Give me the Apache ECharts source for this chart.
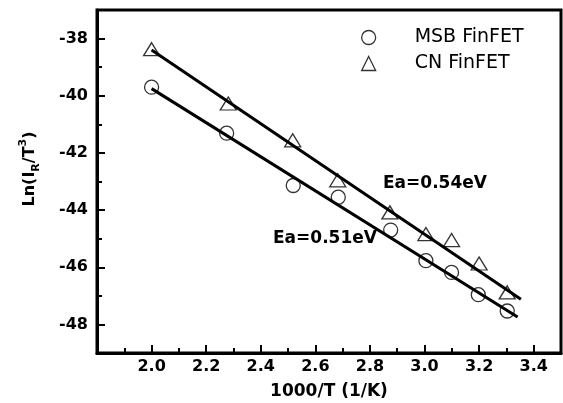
<!DOCTYPE html>
<html>
<head>
<meta charset="utf-8">
<script src="https://cdn.jsdelivr.net/npm/echarts@6/dist/echarts.min.js"></script>
<style>
html,body{margin:0;padding:0;background:#fff}
#echart{width:563px;height:403px}
</style>
</head>
<body>
<div id="echart"></div>
<script>
// measured points (1000/T, ln(IR/T^3))
var msbX = [2.0, 2.275, 2.519, 2.684, 2.876, 3.005, 3.099, 3.197, 3.303];
var msbY = [-39.70, -41.31, -43.14, -43.55, -44.70, -45.77, -46.18, -46.96, -47.53];
var cnX = [2.0, 2.281, 2.517, 2.682, 2.873, 3.005, 3.099, 3.200, 3.303];
var cnY = [-38.37, -40.27, -41.56, -42.96, -44.08, -44.84, -45.05, -45.87, -46.88];

// fitted lines, end points
var msbFitX = [2.0, 3.341];
var msbFitY = [-39.75, -47.74];
var cnFitX = [2.0, 3.353];
var cnFitY = [-38.40, -47.12];

// ticks
var xLabels = [2.0, 2.2, 2.4, 2.6, 2.8, 3.0, 3.2, 3.4];
var xMinor = [1.9, 2.1, 2.3, 2.5, 2.7, 2.9, 3.1, 3.3];
var yLabels = [-48, -46, -44, -42, -40, -38];
var yMinor = [-47, -45, -43, -41, -39];

var seriesNames = ['MSB FinFET', 'CN FinFET'];
var fitLabels = ['Ea=0.54eV', 'Ea=0.51eV'];

function pairs(xs, ys) {
	var out = [];
	for (var i = 0; i < xs.length; i++) {
		out.push([xs[i], ys[i]]);
	}
	return out;
}

var font = 'DejaVu Sans';
var markStyle = {color: 'transparent', borderColor: '#000', borderWidth: 1.3};

var myChart = echarts.init(document.getElementById('echart'));

var xBase = {type: 'value', min: 1.8, max: 3.5, position: 'bottom', splitLine: {show: false}};
var yBase = {type: 'value', min: -49, max: -37, position: 'left', splitLine: {show: false}};

var option = {
	animation: false,
	backgroundColor: '#fff',
	grid: {
		left: 97, right: 2, top: 10, bottom: 50,
		show: true, borderColor: '#000', borderWidth: 3,
		outerBoundsMode: 'none'
	},
	xAxis: [
		Object.assign({}, xBase, {
			name: '1000/T (1/K)',
			nameLocation: 'middle',
			nameGap: 30,
			nameTextStyle: {fontFamily: font, fontWeight: 'bold', fontSize: 17, color: '#000'},
			axisLine: {onZero: false, lineStyle: {color: '#000', width: 3}},
			axisTick: {inside: true, length: 8, lineStyle: {color: '#000', width: 2}, customValues: xLabels},
			axisLabel: {
				margin: 6, fontFamily: font, fontWeight: 'bold', fontSize: 16, color: '#000',
				customValues: xLabels,
				formatter: function (v) { return v.toFixed(1); }
			}
		}),
		Object.assign({}, xBase, {
			axisLine: {show: false, onZero: false},
			axisTick: {inside: true, length: 5, lineStyle: {color: '#000', width: 2}, customValues: xMinor},
			axisLabel: {show: false}
		})
	],
	yAxis: [
		Object.assign({}, yBase, {
			name: 'Ln(I{sub|R}/T{sup|3})',
			nameLocation: 'middle',
			nameGap: 55,
			nameTextStyle: {
				fontFamily: font, fontWeight: 'bold', fontSize: 16, color: '#000',
				lineHeight: 24, padding: [0, 0, 0, 25],
				rich: {
					sub: {fontFamily: font, fontWeight: 'bold', fontSize: 11, color: '#000', verticalAlign: 'bottom', lineHeight: 24},
					sup: {fontFamily: font, fontWeight: 'bold', fontSize: 11, color: '#000', verticalAlign: 'top', lineHeight: 24}
				}
			},
			axisLine: {onZero: false, lineStyle: {color: '#000', width: 3}},
			axisTick: {inside: true, length: 8, lineStyle: {color: '#000', width: 2}, customValues: yLabels},
			axisLabel: {
				margin: 9, fontFamily: font, fontWeight: 'bold', fontSize: 16, color: '#000',
				customValues: yLabels
			}
		}),
		Object.assign({}, yBase, {
			axisLine: {show: false, onZero: false},
			axisTick: {inside: true, length: 5, lineStyle: {color: '#000', width: 2}, customValues: yMinor},
			axisLabel: {show: false}
		})
	],
	legend: {
		orient: 'vertical',
		left: 356,
		top: 23,
		itemWidth: 14,
		itemHeight: 14,
		itemGap: 7,
		selectedMode: false,
		textStyle: {fontFamily: font, fontSize: 19, color: '#000', padding: [0, 0, 0, 34]},
		data: [
			{name: seriesNames[0], icon: 'circle', itemStyle: markStyle},
			{name: seriesNames[1], icon: 'triangle', itemStyle: markStyle}
		]
	},
	graphic: [
		{type: 'text', left: 383, top: 175, style: {text: fitLabels[0], font: 'bold 17px "DejaVu Sans"', fill: '#000'}},
		{type: 'text', left: 273, top: 230, style: {text: fitLabels[1], font: 'bold 17px "DejaVu Sans"', fill: '#000'}}
	],
	series: [
		{
			name: 'msb-fit', type: 'line', data: pairs(msbFitX, msbFitY),
			symbol: 'none', silent: true, z: 2,
			lineStyle: {color: '#000', width: 3}
		},
		{
			name: 'cn-fit', type: 'line', data: pairs(cnFitX, cnFitY),
			symbol: 'none', silent: true, z: 2,
			lineStyle: {color: '#000', width: 3}
		},
		{
			name: seriesNames[0], type: 'scatter', data: pairs(msbX, msbY),
			symbol: 'circle', symbolSize: 14, z: 3,
			itemStyle: markStyle
		},
		{
			name: seriesNames[1], type: 'scatter', data: pairs(cnX, cnY),
			symbol: 'triangle', symbolSize: [16, 13], z: 3,
			itemStyle: markStyle
		}
	]
};

myChart.setOption(option);
</script>
</body>
</html>
